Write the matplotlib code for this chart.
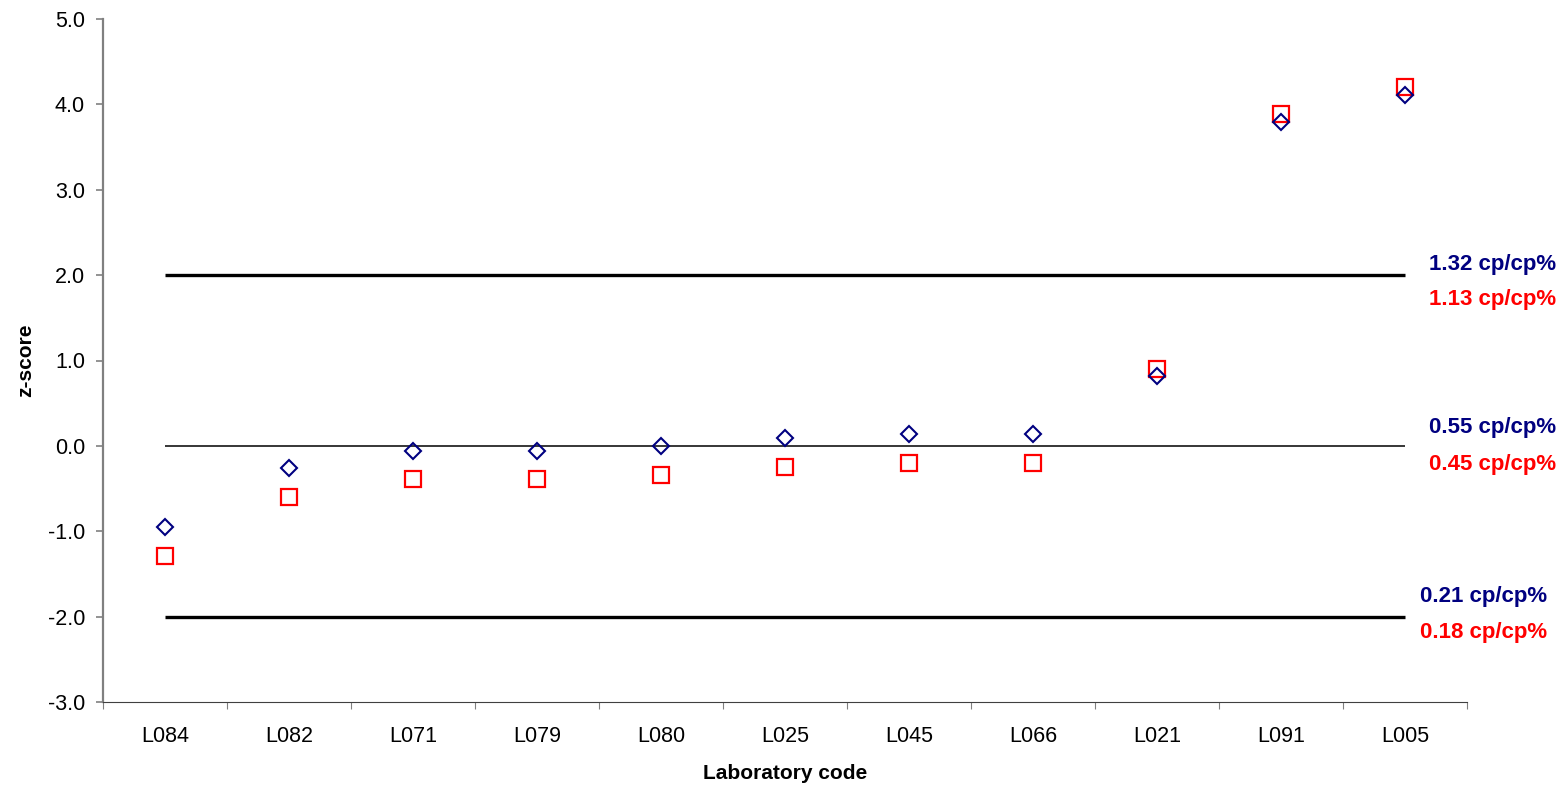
import matplotlib
matplotlib.use("Agg")
import matplotlib.pyplot as plt
from matplotlib.ticker import FixedLocator, NullFormatter

plt.rcParams['font.family'] = ['Liberation Sans', 'DejaVu Sans']

labs = ["L084", "L082", "L071", "L079", "L080", "L025", "L045", "L066", "L021", "L091", "L005"]
z_blue = [-0.95, -0.26, -0.06, -0.06, 0.0, 0.09, 0.14, 0.14, 0.82, 3.79, 4.11]
z_red = [-1.29, -0.60, -0.39, -0.39, -0.34, -0.25, -0.20, -0.20, 0.90, 3.89, 4.20]
limit_lines = [2.0, 0.0, -2.0]
blue_txt = ["1.32 cp/cp%", "0.55 cp/cp%", "0.21 cp/cp%"]
red_txt = ["1.13 cp/cp%", "0.45 cp/cp%", "0.18 cp/cp%"]

BLUE = "#000080"
RED = "#FF0000"

fig = plt.figure(figsize=(15.68, 7.87), dpi=100)
ax = fig.add_axes([103/1568, 1-702/787, (1467-103)/1568, (702-19)/787])

x = list(range(len(labs)))
n = len(labs)

# reference lines
for v in limit_lines:
    lw = 1.1 if v == 0 else 2.4
    ax.plot([0, n-1], [v, v], color="black", lw=lw, solid_capstyle="butt", zorder=2)

ax.plot(x, z_red, linestyle="none", marker="s", markersize=11.3,
        markerfacecolor="none", markeredgecolor=RED, markeredgewidth=1.6, zorder=3)
ax.plot(x, z_blue, linestyle="none", marker="D", markersize=8.6,
        markerfacecolor="none", markeredgecolor=BLUE, markeredgewidth=1.5, zorder=4)

ax.set_xlim(-0.5, n-0.5)
ax.set_ylim(-3, 5)
ax.set_yticks([-3, -2, -1, 0, 1, 2, 3, 4, 5])
ax.set_yticklabels([f"{v:.1f}" for v in [-3, -2, -1, 0, 1, 2, 3, 4, 5]], fontsize=15.5)
ax.set_xticks(x)
ax.set_xticklabels(labs, fontsize=15.5)
ax.xaxis.set_minor_locator(FixedLocator([i - 0.5 for i in range(n+1)]))
ax.xaxis.set_minor_formatter(NullFormatter())
ax.tick_params(axis='x', which='major', length=0, pad=17)
ax.tick_params(axis='x', which='minor', length=5, width=0.8, color="#808080")
ax.tick_params(axis='y', length=5, width=1.2, color="#808080", pad=8)

for s in ["top", "right"]:
    ax.spines[s].set_visible(False)
ax.spines["left"].set_color("#808080")
ax.spines["left"].set_linewidth(1.6)
ax.spines["bottom"].set_color("#404040")
ax.spines["bottom"].set_linewidth(0.8)

ax.set_xlabel("Laboratory code", fontsize=15, fontweight="bold")
ax.set_ylabel("z-score", fontsize=15, fontweight="bold")
ax.xaxis.set_label_coords(0.5, -0.0905)
ax.yaxis.set_label_coords(-0.0495, 0.5)

# annotations
bx = [10.19, 10.19, 10.12]
by = [2.12, 0.215, -1.765]
ry = [1.715, -0.22, -2.185]
for i in range(3):
    ax.text(bx[i], by[i], blue_txt[i], color=BLUE, fontsize=16, fontweight="bold",
            ha="left", va="center", clip_on=False)
    ax.text(bx[i], ry[i], red_txt[i], color=RED, fontsize=16, fontweight="bold",
            ha="left", va="center", clip_on=False)

fig.savefig("out.png", dpi=100)
